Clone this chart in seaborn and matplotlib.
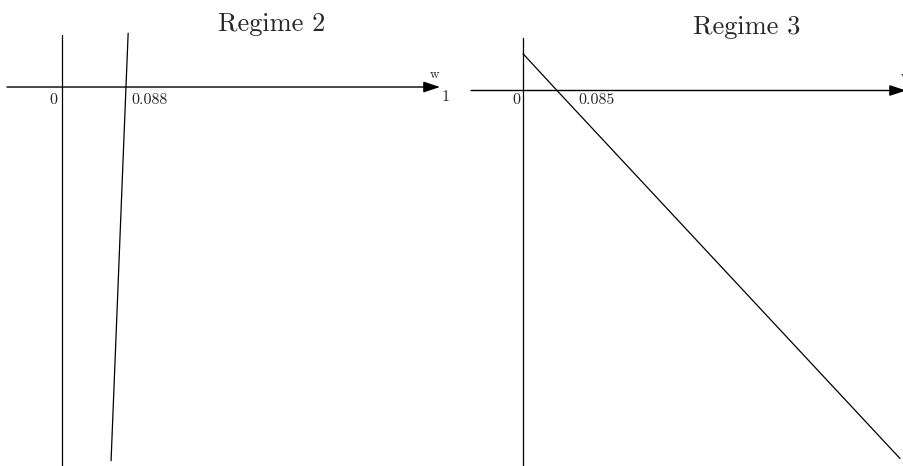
import matplotlib
matplotlib.use("Agg")
import matplotlib.pyplot as plt
import seaborn as sns
import pandas as pd

sns.set_style("white")

# Regime 2: the steep line crossing the w-axis at 0.088
regime2_w = [0.091, 0.088, 0.0675]
regime2_y = [0.074, 0.0, -0.514]
regime2_cross = "0.088"

# Regime 3: the falling line crossing the w-axis at 0.085
regime3_w = [0.0, 0.085, 0.9425]
regime3_y = [0.092, 0.0, -0.92]
regime3_cross = "0.085"

titles = ["Regime 2", "Regime 3"]
axis_name = "w"
axis_end_label = "1"
origin_label = "0"

FONT = "cmr10"

fig = plt.figure(figsize=(9.04, 4.66), dpi=100)
ax_l = fig.add_axes([0.0, 0.0, 0.5, 1.0])
ax_r = fig.add_axes([0.5, 0.0, 0.5, 1.0])

arrow_props = dict(arrowstyle="-|>,head_length=1.0,head_width=0.33",
                   mutation_scale=10, lw=1.0, color="black",
                   shrinkA=0, shrinkB=0)

# ---------------- left panel ----------------
df2 = pd.DataFrame({"w": regime2_w, "y": regime2_y})
sns.lineplot(data=df2, x="w", y="y", ax=ax_l, color="black", lw=0.9,
             sort=False, estimator=None)
ax_l.set_xlim(-0.0853, 0.5365)
ax_l.set_ylim(-0.5213, 0.1197)
ax_l.plot([0, 0], [0.0715, -0.5213], color="black", lw=0.9)
ax_l.annotate("", xy=(0.52, 0), xytext=(-0.0757, 0), arrowprops=arrow_props,
              annotation_clip=False)
ax_l.text(-0.0124, -0.018, origin_label, family=FONT, fontsize=11.5,
          ha="center", va="center")
ax_l.text(0.0949, -0.018, regime2_cross, family=FONT, fontsize=11.5,
          ha="left", va="center")
ax_l.text(0.513, 0.0165, axis_name, family=FONT, fontsize=9.5,
          ha="center", va="center")
ax_l.text(0.527, -0.0138, axis_end_label, family=FONT, fontsize=11.5,
          ha="center", va="center")
ax_l.set_axis_off()

# ---------------- right panel ----------------
df3 = pd.DataFrame({"w": regime3_w, "y": regime3_y})
sns.lineplot(data=df3, x="w", y="y", ax=ax_r, color="black", lw=0.9,
             sort=False, estimator=None)
ax_r.set_xlim(-0.1775, 0.9525)
ax_r.set_ylim(-0.93875, 0.22625)
ax_r.plot([0, 0], [0.131, -0.93875], color="black", lw=0.9)
ax_r.annotate("", xy=(0.9575, 0), xytext=(-0.13, 0), arrowprops=arrow_props,
              annotation_clip=False)
ax_r.text(-0.0175, -0.024, origin_label, family=FONT, fontsize=11.5,
          ha="center", va="center")
ax_r.text(0.1375, -0.024, regime3_cross, family=FONT, fontsize=11.5,
          ha="left", va="center")
ax_r.text(0.956, 0.034, axis_name, family=FONT, fontsize=9.5,
          ha="center", va="center", clip_on=False)
ax_r.set_axis_off()

# panel titles
fig.text(272 / 904, 1 - 24 / 466, titles[0], family=FONT, fontsize=19,
         ha="center", va="center")
fig.text(747 / 904, 1 - 27 / 466, titles[1], family=FONT, fontsize=19,
         ha="center", va="center")

fig.savefig("out.png", dpi=100)
